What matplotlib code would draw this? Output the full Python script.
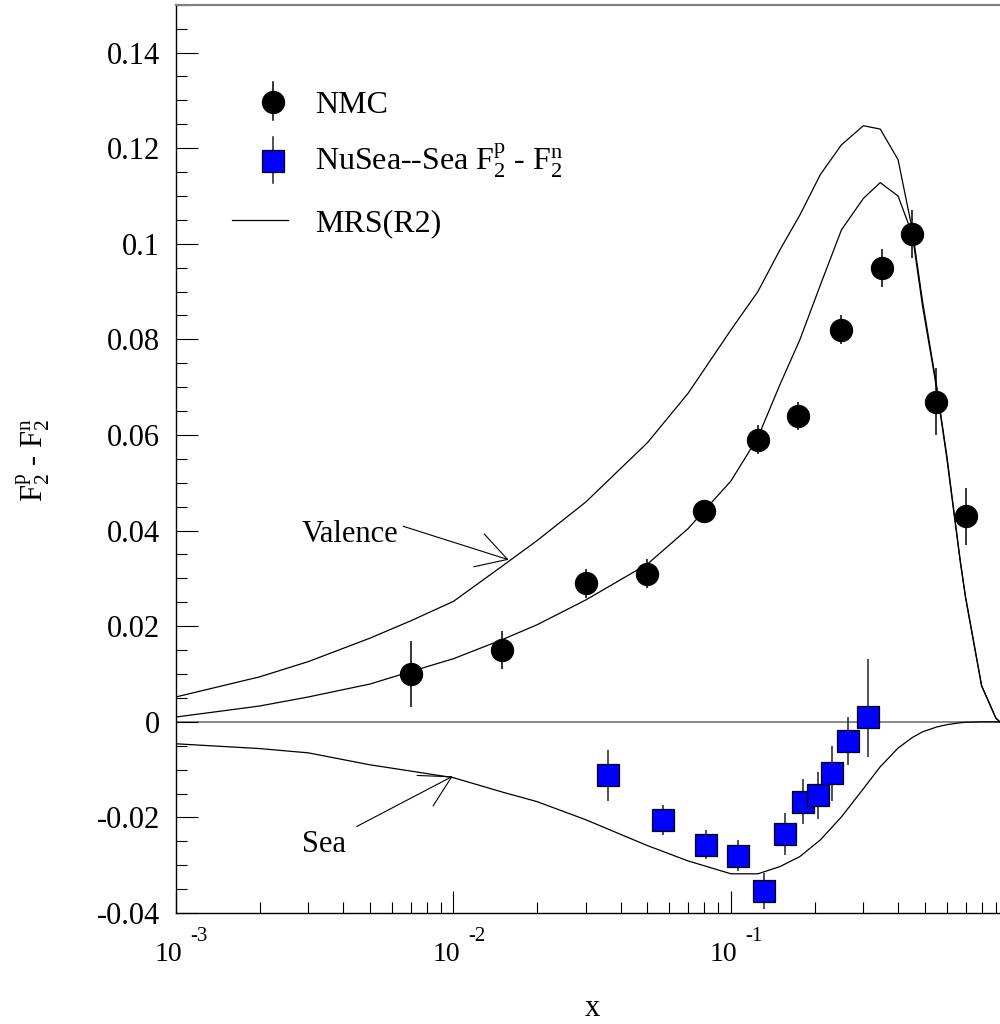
import numpy as np
import matplotlib
matplotlib.use('Agg')
import matplotlib.pyplot as plt
from matplotlib.ticker import MultipleLocator, FixedLocator, NullFormatter, FixedFormatter

plt.rcParams['font.family'] = ['Liberation Serif', 'DejaVu Serif']
plt.rcParams['mathtext.fontset'] = 'custom'
plt.rcParams['mathtext.rm'] = 'Liberation Serif'
plt.rcParams['mathtext.it'] = 'Liberation Serif:italic'
plt.rcParams['axes.unicode_minus'] = False

# ---------------- data ----------------
nmc_x = [0.007, 0.015, 0.030, 0.050, 0.080, 0.125, 0.175, 0.25, 0.35, 0.45, 0.55, 0.70]
nmc_y = [0.010, 0.015, 0.029, 0.031, 0.044, 0.059, 0.064, 0.082, 0.095, 0.102, 0.067, 0.043]
nmc_err = [0.007, 0.004, 0.003, 0.003, 0.002, 0.003, 0.003, 0.003, 0.004, 0.005, 0.007, 0.006]

nusea_x = [0.036, 0.057, 0.081, 0.106, 0.131, 0.156, 0.182, 0.206, 0.232, 0.265, 0.311]
nusea_y = [-0.0112, -0.0206, -0.0257, -0.0280, -0.0354, -0.0234, -0.0167, -0.0154, -0.0108, -0.0041, 0.0009]
nusea_err_lo = [0.0053, 0.0031, 0.0030, 0.0033, 0.0038, 0.0044, 0.0047, 0.0050, 0.0058, 0.0050, 0.0083]
nusea_err_hi = [0.0053, 0.0031, 0.0030, 0.0033, 0.0038, 0.0044, 0.0047, 0.0050, 0.0058, 0.0050, 0.0122]

mrs_x = [0.001, 0.002, 0.003, 0.005, 0.007, 0.01, 0.015, 0.02, 0.03, 0.05, 0.07, 0.1,
         0.125, 0.15, 0.177, 0.21, 0.25, 0.3, 0.345, 0.4, 0.45, 0.49, 0.55, 0.6, 0.67,
         0.7, 0.8, 0.9, 0.93]
mrs_valence = [0.0052, 0.0094, 0.0126, 0.0175, 0.0211, 0.0252, 0.0326, 0.0379, 0.0460, 0.0584,
               0.0687, 0.0820, 0.0900, 0.0987, 0.1060, 0.1145, 0.1207, 0.1247, 0.1240, 0.1176,
               0.1030, 0.0880, 0.0705, 0.0555, 0.0338, 0.0262, 0.0076, 0.0008, 0.0]
mrs_total = [0.0010, 0.0033, 0.0052, 0.0079, 0.0105, 0.0132, 0.0172, 0.0203, 0.0255, 0.0330,
             0.0404, 0.0504, 0.0595, 0.0705, 0.0799, 0.0914, 0.1029, 0.1095, 0.1128, 0.1100,
             0.1020, 0.0870, 0.0700, 0.0550, 0.0335, 0.0260, 0.0075, 0.0008, 0.0]
mrs_sea = [-0.0046, -0.0056, -0.0065, -0.0090, -0.0103, -0.0117, -0.0147, -0.0167, -0.0205, -0.0259,
           -0.0291, -0.0318, -0.0318, -0.0303, -0.0282, -0.0247, -0.0199, -0.0140, -0.0094, -0.0055,
           -0.0033, -0.0021, -0.0011, -0.0006, -0.0002, -0.0001, 0.0, 0.0, 0.0]

ytick_vals = [-0.04, -0.02, 0.0, 0.02, 0.04, 0.06, 0.08, 0.10, 0.12, 0.14]
ytick_labels = ['-0.04', '-0.02', '0', '0.02', '0.04', '0.06', '0.08', '0.1', '0.12', '0.14']
xtick_vals = [1e-3, 1e-2, 1e-1]
xtick_exps = ['-3', '-2', '-1']

legend_labels = ['NMC', r'NuSea--Sea F$\mathregular{_2^p}$ - F$\mathregular{_2^n}$', 'MRS(R2)']
ylabel = r'F$\mathregular{_2^p}$ - F$\mathregular{_2^n}$'

# ---------------- figure ----------------
W, H = 1000, 1024
fig = plt.figure(figsize=(W / 100, H / 100), dpi=100)
ax = fig.add_axes([176 / W, 1 - 913 / H, 1 - 176 / W, 908.2 / H])
ax.set_xscale('log')
ax.set_xlim(1e-3, 0.932)
ax.set_ylim(-0.04, 0.15)

# curves
for ys in (mrs_valence, mrs_total, mrs_sea):
    ax.plot(mrs_x, ys, color='black', lw=0.9, zorder=2)

ax.axhline(0, color='#7f7f7f', lw=1.3, zorder=1)

# data points
ax.errorbar(nmc_x, nmc_y, yerr=nmc_err, fmt='o', color='black', ms=15.8,
            elinewidth=1.1, capsize=0, zorder=4)
ax.errorbar(nusea_x, nusea_y, yerr=[nusea_err_lo, nusea_err_hi], fmt='s', ms=15.4,
            mfc='#0000ff', mec='black', mew=0.9, ecolor='#222222', elinewidth=1.1,
            capsize=0, zorder=5)

# annotations
arrow_kw = dict(arrowstyle='->,head_length=1.08,head_width=0.62', color='black', lw=0.8,
                shrinkA=0, shrinkB=0, mutation_scale=20)
ax.annotate('', xy=(0.0158, 0.0339), xytext=(0.00659, 0.0409), arrowprops=arrow_kw, zorder=6)
ax.annotate('', xy=(0.00993, -0.0114), xytext=(0.00448, -0.0219), arrowprops=arrow_kw, zorder=6)
ax.text(0.00284, 0.0377, 'Valence', fontsize=22, ha='left', va='baseline')
ax.text(0.00284, -0.0273, 'Sea', fontsize=22, ha='left', va='baseline')

# axes styling
ax.spines['right'].set_visible(False)
ax.spines['top'].set_color('#808080')
ax.spines['top'].set_linewidth(1.6)
ax.spines['left'].set_linewidth(1.0)
ax.spines['bottom'].set_linewidth(1.0)

ax.yaxis.set_major_locator(FixedLocator(ytick_vals))
ax.yaxis.set_major_formatter(FixedFormatter(ytick_labels))
ax.yaxis.set_minor_locator(MultipleLocator(0.005))
ax.xaxis.set_major_locator(FixedLocator(xtick_vals))
ax.xaxis.set_major_formatter(NullFormatter())
minor_x = [m * 10.0 ** e for e in (-3, -2, -1) for m in range(2, 10)]
ax.xaxis.set_minor_locator(FixedLocator(minor_x))
ax.xaxis.set_minor_formatter(NullFormatter())

ax.tick_params(axis='both', which='major', direction='in', length=15.8, width=0.8,
               labelsize=22, top=False, right=False)
ax.tick_params(axis='both', which='minor', direction='in', length=7.9, width=0.8,
               top=False, right=False)
ax.tick_params(axis='y', which='major', pad=11.5)

for xv, ex in zip(xtick_vals, xtick_exps):
    ax.annotate('10', xy=(xv, 0), xycoords=('data', 'axes fraction'),
                xytext=(4.7, -30), textcoords='offset points', fontsize=20,
                ha='right', va='center')
    ax.annotate(ex, xy=(xv, 0), xycoords=('data', 'axes fraction'),
                xytext=(10.5, -17), textcoords='offset points', fontsize=15,
                ha='left', va='center')

fig.text(592 / W, 1 - 1009 / H, 'x', fontsize=22, ha='center', va='center')
fig.text(33 / W, 1 - 460 / H, ylabel, fontsize=22, rotation=90, ha='center', va='center')

# manual legend (axes-fraction layout)
def axf(px, py):
    return ((px - 176) / 824.0, (913 - py) / 908.2)

lx, ly = axf(273.3, 101.7)
ax.plot([lx, lx], [axf(0, 82)[1], axf(0, 120)[1]], color='black', lw=1.1, transform=ax.transAxes, clip_on=False)
ax.plot([lx], [ly], 'o', color='black', ms=15.8, transform=ax.transAxes, clip_on=False)
lx2, ly2 = axf(273.3, 160.7)
ax.plot([lx2, lx2], [axf(0, 136.7)[1], axf(0, 183.3)[1]], color='#222222', lw=1.1, transform=ax.transAxes, clip_on=False)
ax.plot([lx2], [ly2], 's', mfc='#0000ff', mec='black', mew=0.9, ms=15.4, transform=ax.transAxes, clip_on=False)
a, yl = axf(231.7, 220)
b, _ = axf(287.7, 220)
ax.plot([a, b], [yl, yl], color='black', lw=0.9, transform=ax.transAxes, clip_on=False)

tx = axf(315, 0)[0]
for lab, bpy in zip(legend_labels, (112.7, 170, 231.7)):
    ax.text(tx, axf(0, bpy)[1], lab, fontsize=23, ha='left', va='baseline', transform=ax.transAxes)

fig.savefig('out.png', dpi=100)
